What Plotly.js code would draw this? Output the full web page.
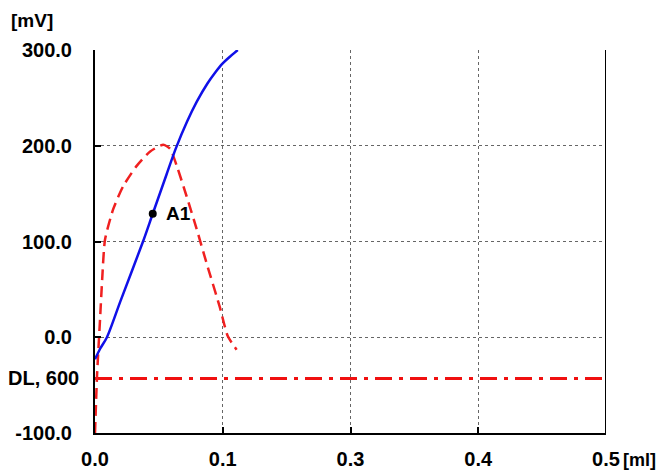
<!DOCTYPE html>
<html>
<head>
<meta charset="utf-8">
<script src="https://cdn.plot.ly/plotly-3.0.1.min.js"></script>
<style>html,body{margin:0;padding:0;background:#fff;}#chart{width:658px;height:470px;}</style>
</head>
<body>
<div id="chart"></div>
<script>
// Blue titration curve [ml] vs [mV]
const blueX = [0, 0.005, 0.0117, 0.025, 0.047, 0.0565, 0.07, 0.079, 0.09, 0.0996, 0.11, 0.118, 0.124, 0.132, 0.1397];
const blueY = [-23, -12, 0, 38, 100, 129, 170, 197, 225, 246, 265, 277, 285, 293, 300];
// Red dashed derivative curve
const redX = [0, 0.002, 0.005, 0.007, 0.0098, 0.0179, 0.0277, 0.0408, 0.054, 0.0668, 0.0734, 0.08, 0.0897, 0.0995, 0.109, 0.122, 0.130, 0.1386];
const redY = [-100, -40, 20, 60, 102, 134, 158, 179, 194, 201, 197, 179, 147, 113, 78, 32, 1, -13];
// Point A1
const pointX = [0.0565];
const pointY = [129];
const pointLabel = ["A1"];
// DL line
const dlLevel = -43;
const dlLabel = "DL, 600";
// Axes
const xTickVals = [0, 0.125, 0.25, 0.375, 0.5];
const xTickText = ["0.0", "0.1", "0.3", "0.4", "0.5"];
const yTickVals = [-100, 0, 100, 200, 300];
const yTickText = ["-100.0", "0.0", "100.0", "200.0", "300.0"];
const xUnit = "[ml]";
const yUnit = "[mV]";

const xMin = xTickVals[0], xMax = xTickVals[xTickVals.length - 1];
const yMin = yTickVals[0], yMax = yTickVals[yTickVals.length - 1];
const FONT = "Liberation Sans, Arial, sans-serif";
const TF = {family: FONT, size: 20, color: '#000', weight: 'bold'};

const traces = [
  {x: [xMin, xMax], y: [dlLevel, dlLevel], mode: 'lines',
   line: {color: '#f01010', width: 3, dash: '17px,7px,4px,7px'}, hoverinfo: 'skip'},
  {x: redX, y: redY, mode: 'lines',
   line: {color: '#f02020', width: 2.5, dash: '11px,6px', shape: 'spline', smoothing: 0.6}},
  {x: blueX, y: blueY, mode: 'lines',
   line: {color: '#1010e8', width: 2.5, shape: 'spline', smoothing: 0.8}},
  {x: pointX, y: pointY, mode: 'markers',
   marker: {color: '#000', size: 8}}
];

const layout = {
  width: 658, height: 470,
  margin: {l: 95, r: 52, t: 50, b: 37},
  paper_bgcolor: '#fff', plot_bgcolor: '#fff',
  showlegend: false,
  font: TF,
  xaxis: {
    range: [xMin, xMax], tickvals: xTickVals, ticktext: xTickText,
    showline: true, linecolor: '#000', linewidth: 2,
    ticks: 'inside', ticklen: 6, tickwidth: 2, tickcolor: '#000',
    showgrid: true, gridcolor: '#666', griddash: 'dot', gridwidth: 1,
    zeroline: false, ticklabelstandoff: 7,
    tickfont: TF
  },
  yaxis: {
    range: [yMin, yMax], tickvals: yTickVals, ticktext: yTickText,
    showline: true, linecolor: '#000', linewidth: 2,
    ticks: 'inside', ticklen: 6, tickwidth: 2, tickcolor: '#000',
    showgrid: true, gridcolor: '#666', griddash: 'dot', gridwidth: 1,
    zeroline: false, ticklabelstandoff: 17,
    tickfont: TF
  },
  shapes: [
    {type: 'line', xref: 'x', yref: 'y', x0: xMax, x1: xMax, y0: yMin, y1: yMax,
     line: {color: '#000', width: 2}}
  ],
  annotations: [
    {text: yUnit, xref: 'paper', yref: 'paper', x: 0, y: 1, xanchor: 'left', yanchor: 'bottom',
     xshift: -86, yshift: 17, showarrow: false,
     font: {family: FONT, size: 19, color: '#000', weight: 'bold'}},
    {text: xUnit, xref: 'paper', yref: 'paper', x: 1, y: 0, xanchor: 'left', yanchor: 'middle',
     xshift: 15, yshift: -27, showarrow: false,
     font: {family: FONT, size: 18, color: '#000', weight: 'bold'}},
    {text: dlLabel, xref: 'paper', yref: 'y', x: 0, y: dlLevel, xanchor: 'right', yanchor: 'middle',
     xshift: -14, showarrow: false, font: TF},
    {text: pointLabel[0], xref: 'x', yref: 'y', x: pointX[0], y: pointY[0], xanchor: 'left', yanchor: 'middle',
     xshift: 11, showarrow: false, font: {family: FONT, size: 19, color: '#000', weight: 'bold'}}
  ]
};

Plotly.newPlot('chart', traces, layout, {staticPlot: true, displayModeBar: false});
</script>
</body>
</html>
